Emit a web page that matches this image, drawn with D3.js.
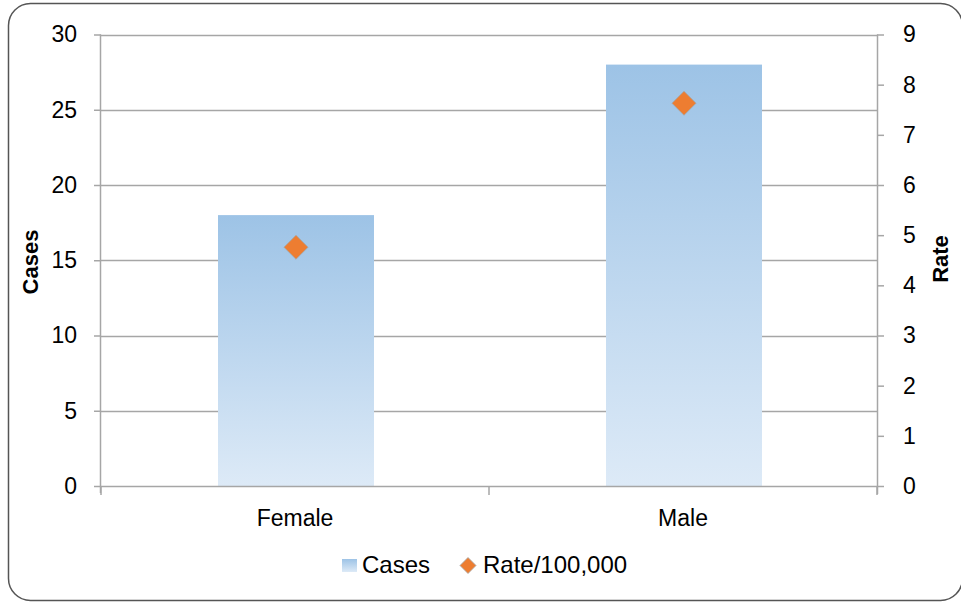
<!DOCTYPE html>
<html><head><meta charset="utf-8">
<script src="https://cdn.jsdelivr.net/npm/d3@7"></script>
<style>html,body{margin:0;padding:0;background:#fff;overflow:hidden}</style>
</head><body>
<svg id="c" width="961" height="602"></svg>
<script>
const categories = ["Female", "Male"];
const cases = [18, 28];
const rates = [4.76, 7.63];
const leftTicks = [0, 5, 10, 15, 20, 25, 30];
const rightTicks = [0, 1, 2, 3, 4, 5, 6, 7, 8, 9];
const seriesNames = ["Cases", "Rate/100,000"];

const svg = d3.select("#c");
const FONT = "'Liberation Sans', Arial, sans-serif";
const L = 101, R = 877, T = 34.5, B = 486;

const defs = svg.append("defs");
const g1 = defs.append("linearGradient").attr("id","bg").attr("x1",0).attr("y1",0).attr("x2",0).attr("y2",1);
g1.append("stop").attr("offset","0%").attr("stop-color","#9DC3E6");
g1.append("stop").attr("offset","100%").attr("stop-color","#DDEAF7");

svg.append("rect").attr("x",8.5).attr("y",3.5).attr("width",954).attr("height",597)
  .attr("rx",22).attr("fill","#fff").attr("stroke","#555").attr("stroke-width",1.5);

const x = d3.scaleBand().domain(categories).range([L, R]).paddingInner(0).paddingOuter(0);
const yL = d3.scaleLinear().domain([0, 30]).range([B, T]);
const yR = d3.scaleLinear().domain([0, 9]).range([B, T]);

// gridlines
svg.append("g").selectAll("line").data(leftTicks.filter(d=>d>0)).join("line")
  .attr("x1",L).attr("x2",R).attr("y1",d=>Math.round(yL(d))+0.5).attr("y2",d=>Math.round(yL(d))+0.5)
  .attr("stroke","#A6A6A6").attr("stroke-width",1.5);

// bars
const bw = 156;
svg.append("g").selectAll("rect").data(categories).join("rect")
  .attr("x",(d)=>x(d)+x.bandwidth()/2-bw/2+1).attr("width",bw)
  .attr("y",(d,i)=>yL(cases[i])).attr("height",(d,i)=>B-yL(cases[i]))
  .attr("fill","url(#bg)");

// left axis
const axL = svg.append("g").attr("transform",`translate(${L},0)`)
  .call(d3.axisLeft(yL).tickValues(leftTicks).tickSize(7).tickPadding(17));
axL.select(".domain").attr("stroke","#A6A6A6").attr("stroke-width",1.5).attr("d",`M-0.5,${T}V${B+7}`);
axL.selectAll(".tick line").attr("stroke","#A6A6A6").attr("stroke-width",1.5);
axL.selectAll(".tick text").attr("font-family",FONT).attr("font-size",23).attr("fill","#000");

// right axis
const axR = svg.append("g").attr("transform",`translate(${R},0)`)
  .call(d3.axisRight(yR).tickValues(rightTicks).tickSize(7).tickPadding(19));
axR.select(".domain").attr("stroke","#A6A6A6").attr("stroke-width",1.5).attr("d",`M0.5,${T}V${B+8}`);
axR.selectAll(".tick line").attr("stroke","#A6A6A6").attr("stroke-width",1.5);
axR.selectAll(".tick text").attr("font-family",FONT).attr("font-size",23).attr("fill","#000");

// bottom axis
const axB = svg.append("g").attr("transform",`translate(0,${B})`)
  .call(d3.axisBottom(x).tickSize(0).tickPadding(24));
axB.select(".domain").attr("stroke","#A6A6A6").attr("stroke-width",1.5).attr("d",`M${L},0.5H${R}`);
axB.selectAll(".tick text").attr("font-family",FONT).attr("font-size",23).attr("fill","#000");
const bTicks = [x(categories[0]), x(categories[1]), x(categories[1]) + x.bandwidth()];
svg.append("g").selectAll("line").data(bTicks).join("line")
  .attr("x1",d=>d).attr("x2",d=>d).attr("y1",B).attr("y2",B+9)
  .attr("stroke","#A6A6A6").attr("stroke-width",1.5);

// diamonds
function diamondPath(s){ return `M0,${-s}L${s},0L0,${s}L${-s},0Z`; }
svg.append("g").selectAll("path").data(categories).join("path")
  .attr("transform",(d,i)=>`translate(${x(d)+x.bandwidth()/2+1},${yR(rates[i])})`)
  .attr("d",diamondPath(12)).attr("fill","#ED7D31").attr("stroke","#A5A5A5").attr("stroke-width",0.8);

// axis titles
svg.append("text").attr("transform","translate(38,262) rotate(-90)").attr("text-anchor","middle")
  .attr("font-family",FONT).attr("font-weight","bold").attr("font-size",22).text("Cases");
svg.append("text").attr("transform","translate(948,259) rotate(-90)").attr("text-anchor","middle")
  .attr("font-family",FONT).attr("font-weight","bold").attr("font-size",22).text("Rate");

// legend
const lg = svg.append("g");
lg.append("rect").attr("x",342).attr("y",559).attr("width",15).attr("height",13).attr("fill","url(#bg)");
lg.append("text").attr("x",362).attr("y",573).attr("font-family",FONT).attr("font-size",24).text(seriesNames[0]);
lg.append("path").attr("transform","translate(468,565.5)").attr("d",diamondPath(8))
  .attr("fill","#ED7D31").attr("stroke","#A5A5A5").attr("stroke-width",0.8);
lg.append("text").attr("x",483).attr("y",573).attr("font-family",FONT).attr("font-size",24).text(seriesNames[1]);
</script>
</body></html>
